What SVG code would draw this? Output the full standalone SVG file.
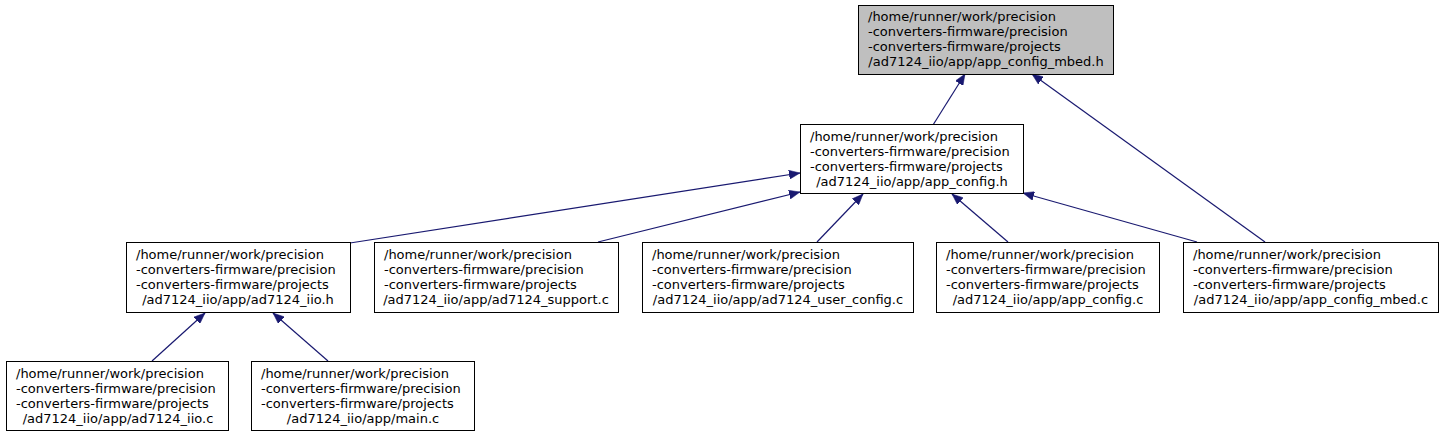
<svg xmlns="http://www.w3.org/2000/svg" width="1444" height="437" viewBox="0 0 1444 437">
<defs>
<style>
.box{fill:#ffffff;stroke:#000000;stroke-width:1}
.cur{fill:#bfbfbf;stroke:#000000;stroke-width:1}
text{font-family:"DejaVu Sans","Liberation Sans",sans-serif;font-size:13px;fill:#000000}
.c{text-anchor:middle}
.edge{fill:none;stroke:#191970;stroke-width:1.2;marker-end:url(#arr)}
</style>
<marker id="arr" markerUnits="userSpaceOnUse" markerWidth="12" markerHeight="9" refX="11" refY="4.5" orient="auto">
<path d="M0,0 L11,4.5 L0,9 z" fill="#191970" stroke="#191970" stroke-width="0.5"/>
</marker>
</defs>
<rect width="1444" height="437" fill="#ffffff"/>
<g id="connectors">
<path class="edge" d="M933,125 L965,74"/>
<path class="edge" d="M1265,242 L1032,74"/>
<path class="edge" d="M350,243 L800,173"/>
<path class="edge" d="M598,242 L800,192"/>
<path class="edge" d="M817,242 L863,194"/>
<path class="edge" d="M1008,242 L952,194"/>
<path class="edge" d="M1197,242 L1023,193"/>
<path class="edge" d="M152,361 L205,313"/>
<path class="edge" d="M328,361 L273,313"/>
</g>
<g id="n1">
<rect class="cur" x="858.5" y="5.5" width="255" height="69"/>
<text x="868" y="21">/home/runner/work/precision</text>
<text x="868" y="36">-converters-firmware/precision</text>
<text x="868" y="51">-converters-firmware/projects</text>
<text class="c" x="986" y="66">/ad7124_iio/app/app_config_mbed.h</text>
</g>
<g id="n2">
<rect class="box" x="800.5" y="124.5" width="223" height="69"/>
<text x="810" y="141">/home/runner/work/precision</text>
<text x="810" y="156">-converters-firmware/precision</text>
<text x="810" y="171">-converters-firmware/projects</text>
<text class="c" x="912" y="186">/ad7124_iio/app/app_config.h</text>
</g>
<g id="n3">
<rect class="box" x="126.5" y="242.5" width="224" height="70"/>
<text x="136" y="259">/home/runner/work/precision</text>
<text x="136" y="274">-converters-firmware/precision</text>
<text x="136" y="289">-converters-firmware/projects</text>
<text class="c" x="238" y="304">/ad7124_iio/app/ad7124_iio.h</text>
</g>
<g id="n4">
<rect class="box" x="374.5" y="242.5" width="244" height="70"/>
<text x="384" y="259">/home/runner/work/precision</text>
<text x="384" y="274">-converters-firmware/precision</text>
<text x="384" y="289">-converters-firmware/projects</text>
<text class="c" x="496" y="304">/ad7124_iio/app/ad7124_support.c</text>
</g>
<g id="n5">
<rect class="box" x="642.5" y="242.5" width="271" height="70"/>
<text x="652" y="259">/home/runner/work/precision</text>
<text x="652" y="274">-converters-firmware/precision</text>
<text x="652" y="289">-converters-firmware/projects</text>
<text class="c" x="778" y="304">/ad7124_iio/app/ad7124_user_config.c</text>
</g>
<g id="n6">
<rect class="box" x="936.5" y="242.5" width="223" height="70"/>
<text x="946" y="259">/home/runner/work/precision</text>
<text x="946" y="274">-converters-firmware/precision</text>
<text x="946" y="289">-converters-firmware/projects</text>
<text class="c" x="1048" y="304">/ad7124_iio/app/app_config.c</text>
</g>
<g id="n7">
<rect class="box" x="1183.5" y="242.5" width="255" height="70"/>
<text x="1193" y="259">/home/runner/work/precision</text>
<text x="1193" y="274">-converters-firmware/precision</text>
<text x="1193" y="289">-converters-firmware/projects</text>
<text class="c" x="1311" y="304">/ad7124_iio/app/app_config_mbed.c</text>
</g>
<g id="n8">
<rect class="box" x="6.5" y="361.5" width="222" height="69"/>
<text x="16" y="378">/home/runner/work/precision</text>
<text x="16" y="393">-converters-firmware/precision</text>
<text x="16" y="408">-converters-firmware/projects</text>
<text class="c" x="118" y="423">/ad7124_iio/app/ad7124_iio.c</text>
</g>
<g id="n9">
<rect class="box" x="251.5" y="361.5" width="223" height="69"/>
<text x="261" y="378">/home/runner/work/precision</text>
<text x="261" y="393">-converters-firmware/precision</text>
<text x="261" y="408">-converters-firmware/projects</text>
<text class="c" x="363" y="423">/ad7124_iio/app/main.c</text>
</g>
</svg>
